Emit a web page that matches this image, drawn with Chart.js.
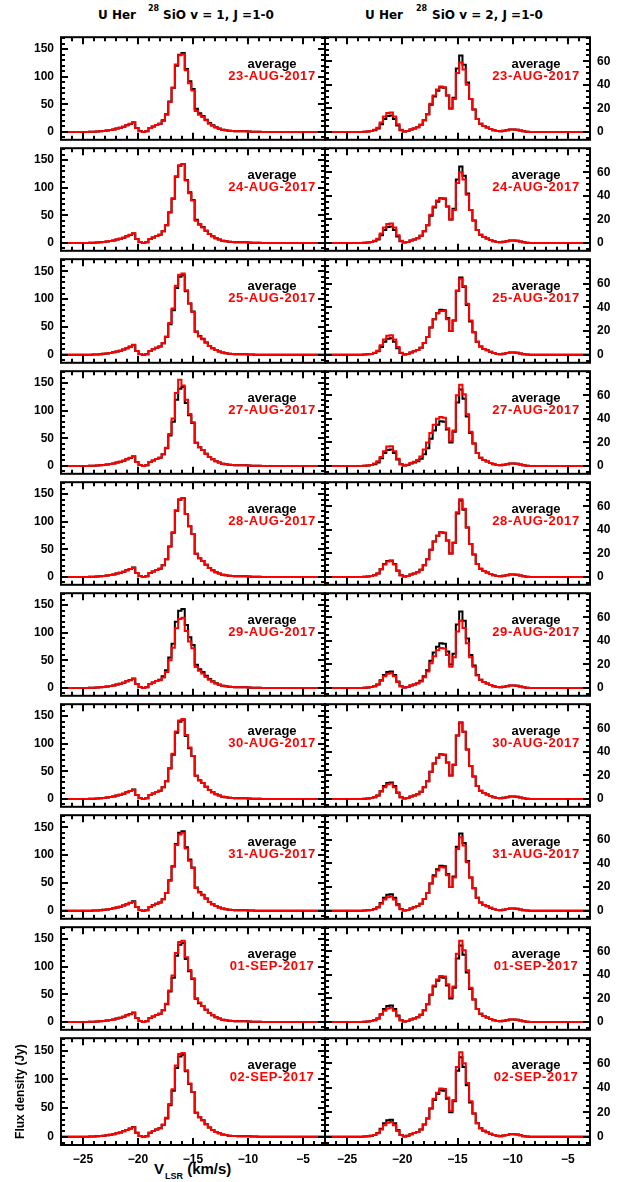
<!DOCTYPE html>
<html>
<head>
<meta charset="utf-8">
<script src="https://cdn.jsdelivr.net/npm/chart.js@4.4.0/dist/chart.umd.min.js"></script>
<style>
html, body { margin: 0; padding: 0; background: #fff; }
#wrap { position: relative; width: 624px; height: 1182px; overflow: hidden; font-family: "Liberation Sans", Arial, sans-serif; font-weight: bold; }
#wrap canvas { position: absolute; }
.lbl { position: absolute; white-space: pre; color: #000; font-size: 12px; line-height: 14px; }
.ttl { font-family: "DejaVu Sans", sans-serif; }
.sup { font-size: 8px; line-height: 10px; }
</style>
</head>
<body>
<div id="wrap">
  <div class="lbl ttl" style="left:98px;top:8px">U Her</div>
  <div class="lbl ttl sup" style="left:148px;top:4px">28</div>
  <div class="lbl ttl" style="left:163px;top:8px">SiO v = 1, J =1-0</div>
  <div class="lbl ttl" style="left:365px;top:8px">U Her</div>
  <div class="lbl ttl sup" style="left:416px;top:4px">28</div>
  <div class="lbl ttl" style="left:432px;top:8px">SiO v = 2, J =1-0</div>
  <div class="lbl" style="left:154px;top:1160px;font-size:15px;line-height:17px">V<span style="font-size:9px;position:relative;top:5px;margin-left:1px">LSR</span> (km/s)</div>
</div>
<script>
// channel velocities (km/s), plus the two ends of the plotted range
const vel = [-27.0, -24.6, -24.3, -24.0, -23.7, -23.4, -23.1, -22.8, -22.5, -22.2, -21.9,
  -21.6, -21.3, -21.0, -20.7, -20.4, -20.1, -19.8, -19.5, -19.2, -18.9,
  -18.6, -18.3, -18.0, -17.7, -17.4, -17.1, -16.8, -16.5, -16.2, -15.9,
  -15.6, -15.3, -15.0, -14.7, -14.4, -14.1, -13.8, -13.5, -13.2, -12.9,
  -12.6, -12.3, -12.0, -11.7, -11.4, -11.1, -10.8, -10.5, -10.2, -9.9,
  -9.6, -9.3, -9.0, -8.7, -8.4, -8.1, -3.0];

const dates = ['23-AUG-2017', '24-AUG-2017', '25-AUG-2017', '27-AUG-2017', '28-AUG-2017',
  '29-AUG-2017', '30-AUG-2017', '31-AUG-2017', '01-SEP-2017', '02-SEP-2017'];

const xMajorTicks = [-25, -20, -15, -10, -5];
const v1MajorTicks = [0, 50, 100, 150];
const v2MajorTicks = [0, 20, 40, 60];

// 28SiO v=1 J=1-0 (Jy): average and each day
const v1Average = [0, 0,0.3,0.5,0.8,1.2,1.8,2.5,3.5,4.5,6, 7.5,9.5,12,14.5,17,7,1.5,0,1,7, 10,12.5,15,21,32,55,80,120,140,143, 114,92,78,42,34,29,22,16,12,8.5, 6,4,3,2,1.5,1.2,1,1,1,0.8, 0.5,0.3,0.2,0,0,0, 0];
const v1_0823 = [0, 0,0.3,0.5,0.8,1.2,1.8,2.5,3.5,4.5,6, 7.5,9.5,12,15,17.5,7,1,0,1,7, 10,12.5,15,20,31,54,80,122,139,141, 112,88,75,38,31,27,21,15,11,8, 5.5,4,3,2,1.5,1.2,1,1,1,0.8, 0.5,0.3,0.2,0,0,0, 0];
const v1_0824 = [0, 0,0.3,0.5,0.8,1.2,1.8,2.5,3.5,4.5,6, 7.5,9.5,12,15,17.5,7,1.5,0,1,7, 10,12.5,15,21,32,56,81,121,141,143, 113,90,77,40,33,28,22,16,12,8.5, 6,4,3,2,1.5,1.2,1,1,1,0.8, 0.5,0.3,0.2,0,0,0, 0];
const v1_0825 = [0, 0,0.3,0.5,0.8,1.2,1.8,2.5,3.5,4.5,6, 7.5,9.5,12,15,18,7,1.5,0,1,7, 10,12.5,15,21,33,57,83,124,144,146, 116,92,77,41,33,28,22,16,12,8.5, 6,4,3,2,1.5,1.2,1,1,1,0.8, 0.5,0.3,0.2,0,0,0, 0];
const v1_0827 = [0, 0,0.3,0.5,0.8,1.2,1.8,2.5,3.5,4.5,6, 7.5,9.5,12,15,17.5,7,1.5,0,1,7, 10,12.5,15,21,33,58,86,132,156,146, 120,94,79,42,34,29,22,16,12,8.5, 6,4,3,2,1.5,1.2,1,1,1,0.8, 0.5,0.3,0.2,0,0,0, 0];
const v1_0828 = [0, 0,0.3,0.5,0.8,1.2,1.8,2.5,3.5,4.5,6, 7.5,9.5,12,14.5,16.5,7,1.5,0,1,7, 10,12.5,15,21,32,55,81,121,141,143, 114,92,78,42,34,29,22,16,12,8.5, 6,4,3,2,1.5,1.2,1,1,1,0.8, 0.5,0.3,0.2,0,0,0, 0];
const v1_0829 = [0, 0,0.3,0.5,0.8,1.2,1.8,2.5,3.5,4.5,6, 7.5,9.5,12,14,16,7,1.5,0,1,7, 10,12.5,14,19,29,50,73,108,125,127, 103,84,72,38,31,26,20,15,11,8, 5.5,4,3,2,1.5,1.2,1,1,1,0.8, 0.5,0.3,0.2,0,0,0, 0];
const v1_0830 = [0, 0,0.3,0.5,0.8,1.2,1.8,2.5,3.5,4.5,6, 7.5,9.5,12,14.5,16.5,7,1.5,0,1,7, 10,12.5,15,21,32,56,82,122,142,145, 116,93,78,42,34,29,22,16,12,8.5, 6,4,3,2,1.5,1.2,1,1,1,0.8, 0.5,0.3,0.2,0,0,0, 0];
const v1_0831 = [0, 0,0.3,0.5,0.8,1.2,1.8,2.5,3.5,4.5,6, 7.5,9.5,12,14,16,7,1.5,0,1,7, 10,12.5,15,21,32,54,79,118,137,140, 112,90,77,41,33,28,22,16,12,8.5, 6,4,3,2,1.5,1.2,1,1,1,0.8, 0.5,0.3,0.2,0,0,0, 0];
const v1_0901 = [0, 0,0.3,0.5,0.8,1.2,1.8,2.5,3.5,4.5,6, 7.5,9.5,12,14,16,7,1.5,0,1,7, 10,12.5,15,21,33,57,84,125,145,147, 117,94,79,43,35,29,22,16,12,8.5, 6,4,3,2,1.5,1.2,1,1,1,0.8, 0.5,0.3,0.2,0,0,0, 0];
const v1_0902 = [0, 0,0.3,0.5,0.8,1.2,1.8,2.5,3.5,4.5,6, 7.5,9.5,12,14,16.5,7,1.5,0,1,7, 10,12.5,15,21,33,57,83,124,144,146, 116,93,78,42,34,29,22,16,12,8.5, 6,4,3,2,1.5,1.2,1,1,1,0.8, 0.5,0.3,0.2,0,0,0, 0];

// 28SiO v=2 J=1-0 (Jy): average and each day
const v2Average = [0, 0,0,0,0,0.2,0.4,0.8,1.5,3,6.5, 11,13.5,14,11,5.5,1.5,0.3,0.8,2,3, 4,6,10,15,23,30,35,38,37.5,31, 20,29,54,65,57,42,28,19,11,7, 5,3.8,2.5,1.5,0.8,0.5,1,1.5,2,2, 1.8,1.2,0.5,0.2,0,0, 0];
const v2_0823 = [0, 0,0,0,0,0.2,0.4,0.8,1.8,3.5,8, 13,16,16.5,13,6.5,1.8,0.3,0.8,2,3, 4,6,10,15,24,31,36,38.5,38,31, 20,28,50,59,53,40,28,19,11,7, 5,3.8,2.5,1.5,0.8,0.5,1,1.5,2,2, 1.8,1.2,0.5,0.2,0,0, 0];
const v2_0824 = [0, 0,0,0,0,0.2,0.4,0.8,1.8,3.5,8, 13,16,16.5,13,6.5,1.8,0.3,0.8,2,3, 4,6,10,15,24,31,36,38,38,31, 20,28,51,60,54,41,28,19,11,7, 5,3.8,2.5,1.5,0.8,0.5,1,1.5,2,2, 1.8,1.2,0.5,0.2,0,0, 0];
const v2_0825 = [0, 0,0,0,0,0.2,0.4,0.8,1.8,3.5,8, 13,16,16.5,13,6.5,1.8,0.3,0.8,2,3, 4,6,10,15,23,30,35,37,37,30, 20,29,54,64,58,43,29,19,11,7, 5,3.8,2.5,1.5,0.8,0.5,1,1.5,2,2, 1.8,1.2,0.5,0.2,0,0, 0];
const v2_0827 = [0, 0,0,0,0,0.2,0.4,0.8,2,4,7.5, 12.5,16.5,16.7,12.5,6,1.5,0.3,1,2.5,3.5, 5,8,14,20,28,35,40,41.5,41,32, 21,30,60,69,61,44,29,19,11,7, 5,4,2.5,1.5,0.8,0.5,1,1.5,2,2, 1.8,1.2,0.5,0.2,0,0, 0];
const v2_0828 = [0, 0,0,0,0,0.2,0.4,0.8,1.5,3,6.5, 10.5,13,13.5,10.5,5,1.5,0.3,0.8,2,3, 4,6,10,15,23,30,35,38,37.5,31, 20,29,55,66,58,42,28,19,11,7, 5,3.8,2.5,1.5,0.8,0.5,1,1.5,2,2, 1.8,1.2,0.5,0.2,0,0, 0];
const v2_0829 = [0, 0,0,0,0,0.2,0.4,0.8,1.4,2.8,6, 10,12,12.5,10,5,1.4,0.3,0.8,2,3, 4,5.5,9,14,21,27,32,34,33.5,28, 18,26,48,57,51,38,26,18,10.5,7, 5,3.8,2.5,1.5,0.8,0.5,1,1.5,2,2, 1.8,1.2,0.5,0.2,0,0, 0];
const v2_0830 = [0, 0,0,0,0,0.2,0.4,0.8,1.5,3,6.3, 10,12.5,13,10,5,1.5,0.3,0.8,2,3, 4,6,10,15,23,30,35,38,37.5,31, 20,29,54,65,57,42,28,19,11,7, 5,3.8,2.5,1.5,0.8,0.5,1,1.5,2,2, 1.8,1.2,0.5,0.2,0,0, 0];
const v2_0831 = [0, 0,0,0,0,0.2,0.4,0.8,1.4,2.8,6, 9.5,11.5,12,9.5,4.8,1.4,0.3,0.8,2,3, 4,6,10,15,23,29,34,37,36.5,30, 20,28,52,62,55,41,28,19,11,7, 5,3.8,2.5,1.5,0.8,0.5,1,1.5,2,2, 1.8,1.2,0.5,0.2,0,0, 0];
const v2_0901 = [0, 0,0,0,0,0.2,0.4,0.8,1.4,2.8,6, 9.5,11.5,12,9.5,4.8,1.4,0.3,0.8,2,3, 4,6,10,15,23,31,36,39,38.5,32, 21,30,58,69,61,44,29,19,11,7, 5,3.8,2.5,1.5,0.8,0.5,1,1.5,2,2, 1.8,1.2,0.5,0.2,0,0, 0];
const v2_0902 = [0, 0,0,0,0,0.2,0.4,0.8,1.4,2.8,6, 9.5,11.5,12,9.5,4.8,1.4,0.3,0.8,2,3, 4,6,10,15,23,31,36,39.5,39,32, 21,30,57,69,60,44,29,19,11,7, 5,3.8,2.5,1.5,0.8,0.5,1,1.5,2,2, 1.8,1.2,0.5,0.2,0,0, 0];

const v1Days = [v1_0823, v1_0824, v1_0825, v1_0827, v1_0828, v1_0829, v1_0830, v1_0831, v1_0901, v1_0902];
const v2Days = [v2_0823, v2_0824, v2_0825, v2_0827, v2_0828, v2_0829, v2_0830, v2_0831, v2_0901, v2_0902];

const FONT = { family: '"Liberation Sans", Arial, sans-serif', weight: 'bold', size: 12 };

// frame with inward ticks on all four sides, plus the two text lines
const framePlugin = {
    id: 'frame',
    afterDatasetsDraw(chart, args, opts) {
        const { ctx, chartArea: a } = chart;
        const x = chart.scales.x, y = chart.scales.y;
        ctx.save();
        ctx.strokeStyle = '#000';
        ctx.lineWidth = 2;
        ctx.beginPath();
        for (let v = -27; v <= -3; v += 1) {
            const px = Math.round(x.getPixelForValue(v));
            const len = xMajorTicks.includes(v) ? 7 : 4;
            ctx.moveTo(px, a.bottom); ctx.lineTo(px, a.bottom - len);
            ctx.moveTo(px, a.top); ctx.lineTo(px, a.top + len);
        }
        for (let v = opts.yFirst; v <= y.max; v += opts.yMinor) {
            const py = Math.round(y.getPixelForValue(v));
            const len = opts.yMajor.includes(v) ? 7 : 4;
            ctx.moveTo(a.left, py); ctx.lineTo(a.left + len, py);
            ctx.moveTo(a.right, py); ctx.lineTo(a.right - len, py);
        }
        ctx.stroke();
        ctx.strokeRect(a.left, a.top, a.right - a.left, a.bottom - a.top);

        ctx.font = 'bold 13px "Liberation Sans", Arial, sans-serif';
        ctx.textAlign = 'center';
        ctx.textBaseline = 'middle';
        ctx.fillStyle = '#000';
        ctx.fillText('average', a.left + 211, a.top + 27);
        ctx.fillStyle = '#ff0000';
        ctx.letterSpacing = '0.6px';
        ctx.fillText(opts.date, a.left + 211, a.top + 39);
        ctx.restore();
    }
};

const wrap = document.getElementById('wrap');
const rowTop = [33, 144, 255, 367, 478, 589, 700, 811, 923, 1034, 1145];

function makePanel(row, isLeft) {
    const last = row === dates.length - 1;
    const h = rowTop[row + 1] - rowTop[row];
    const canvas = document.createElement('canvas');
    const cw = isLeft ? 335 : 309;
    const ch = h + 20 + (last ? 26 : 0);
    canvas.width = cw; canvas.height = ch;
    canvas.style.left = (isLeft ? 0 : 315) + 'px';
    canvas.style.top = (rowTop[row] - 10) + 'px';
    canvas.style.width = cw + 'px'; canvas.style.height = ch + 'px';
    wrap.appendChild(canvas);

    const avg = isLeft ? v1Average : v2Average;
    const day = isLeft ? v1Days[row] : v2Days[row];
    const yMajor = isLeft ? v1MajorTicks : v2MajorTicks;

    new Chart(canvas, {
        type: 'line',
        data: {
            datasets: [
                { label: dates[row], data: vel.map((v, k) => ({ x: v, y: day[k] })), borderColor: '#ff0000', order: 0 },
                { label: 'average', data: vel.map((v, k) => ({ x: v, y: avg[k] })), borderColor: '#000000', order: 1 }
            ]
        },
        options: {
            responsive: false,
            animation: false,
            devicePixelRatio: 1,
            events: [],
            datasets: {
                line: { stepped: 'middle', borderWidth: 2, pointRadius: 0, fill: false, borderJoinStyle: 'miter', borderCapStyle: 'butt' }
            },
            layout: {
                autoPadding: false,
                padding: { top: 10, bottom: 10, left: isLeft ? 0 : 10, right: isLeft ? 10 : 0 }
            },
            plugins: {
                legend: { display: false },
                tooltip: { enabled: false },
                frame: { date: dates[row], yMajor: yMajor, yMinor: isLeft ? 10 : 5, yFirst: isLeft ? -10 : -5 }
            },
            scales: {
                x: {
                    type: 'linear', min: -27, max: -3,
                    grid: { display: false, drawTicks: false },
                    border: { display: false },
                    afterBuildTicks: s => { s.ticks = xMajorTicks.map(v => ({ value: v })); },
                    afterFit: s => { s.height = last ? 26 : 0; },
                    ticks: {
                        display: last, padding: 7, maxRotation: 0, autoSkip: false,
                        color: '#000', font: FONT,
                        callback: v => (v < 0 ? '\u2212' : '') + Math.abs(v)
                    }
                },
                y: {
                    type: 'linear',
                    position: isLeft ? 'left' : 'right',
                    min: isLeft ? -14.3 : -6.7,
                    max: isLeft ? 171.7 : 80.5,
                    grid: { display: false, drawTicks: false },
                    border: { display: false },
                    afterBuildTicks: s => { s.ticks = yMajor.map(v => ({ value: v })); },
                    afterFit: s => { s.width = isLeft ? 61 : 34; },
                    ticks: { padding: 7, color: '#000', font: FONT },
                    title: {
                        display: isLeft && last,
                        text: 'Flux density (Jy)',
                        color: '#000', font: FONT,
                        padding: { top: 13, bottom: 0 }
                    }
                }
            }
        },
        plugins: [framePlugin]
    });
}

for (let r = 0; r < dates.length; r++) {
    makePanel(r, true);
    makePanel(r, false);
}
</script>
</body>
</html>
